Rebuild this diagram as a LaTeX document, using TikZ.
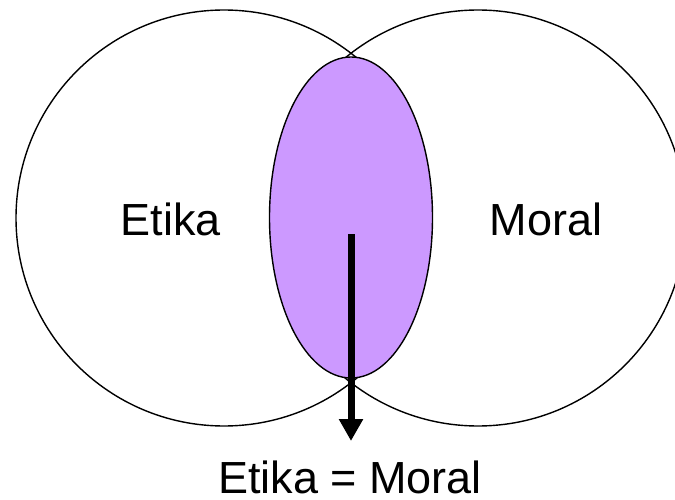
\documentclass[tikz,border=0pt]{standalone}
\usepackage{fontspec}
\setmainfont{Liberation Sans}
\usetikzlibrary{arrows.meta,shapes.geometric}
\definecolor{lilac}{RGB}{204,153,255}
\begin{document}
\begin{tikzpicture}[x=1pt,y=1pt,
  ring/.style={circle,draw=black,line width=1.4pt,minimum size=416pt,inner sep=0pt},
  lens/.style={ellipse,draw=black,fill=lilac,line width=1.4pt,minimum width=163pt,minimum height=321pt,inner sep=0pt},
  lbl/.style={font=\fontsize{45}{54}\selectfont,anchor=base,inner sep=0pt},
  bigarrow/.style={line width=7pt,-{Triangle[length=22pt,width=23pt]}}]
\useasboundingbox (0,0) rectangle (675,499);
\clip (0,0) rectangle (675,499);
\node[ring] (etikac) at (224,281) {};
\node[ring] (moralc) at (478,281) {};
\node[lens] (both) at (351,281.5) {};
\node[lbl] (etika) at (171,264) {Etika};
\node[lbl] (moral) at (546,264) {Moral};
\node[lbl] (eq) at (350,6) {Etika = Moral};
\coordinate (astart) at (351,265);
\coordinate (aend) at (351,58);
\draw[bigarrow] (astart) -- (aend);
\end{tikzpicture}
\end{document}
